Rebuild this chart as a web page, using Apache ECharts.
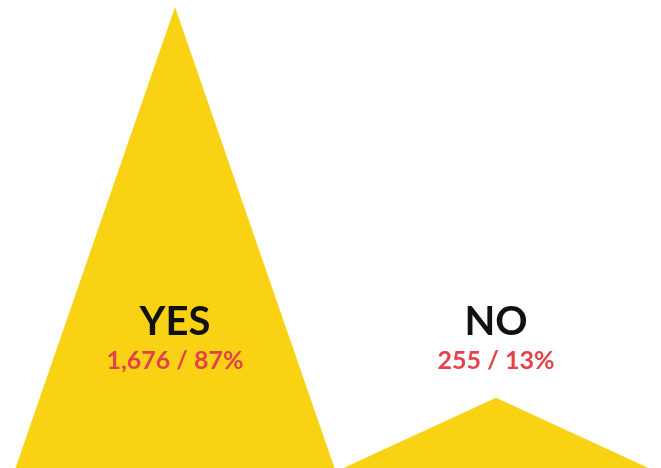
<!DOCTYPE html>
<html>
<head>
<meta charset="utf-8">
<script src="https://cdn.jsdelivr.net/npm/echarts@6/dist/echarts.min.js"></script>
<style>
  html, body { margin: 0; padding: 0; background: #fff; }
  #chart { width: 661px; height: 468px; }
</style>
</head>
<body>
<div id="chart"></div>
<script>
// answers and counts
var categories = ['YES', 'NO'];
var counts = [1676, 255];
var percents = ['87%', '13%'];
var baseWidths = [319, 305];

var chart = echarts.init(document.getElementById('chart'));

var option = {
  animation: false,
  grid: { left: 14.5, right: 4.5, top: 7, bottom: 0 },
  xAxis: {
    type: 'category',
    data: categories,
    show: false
  },
  yAxis: {
    type: 'value',
    min: 0,
    max: 1676,
    show: false
  },
  series: [{
    type: 'pictorialBar',
    symbol: 'triangle',
    itemStyle: { color: '#F9D313' },
    data: counts.map(function (v, i) {
      return {
        value: v,
        symbolSize: [baseWidths[i], '100%']
      };
    }),
    label: {
      show: true,
      position: 'insideBottom',
      distance: 87.5,
      formatter: function (p) {
        var i = p.dataIndex;
        return '{a|' + categories[i] + '}\n{b|' + counts[i].toLocaleString('en-US') + ' / ' + percents[i] + '}';
      },
      rich: {
        a: { fontFamily: 'Lato', fontWeight: 'bold', fontSize: 40, color: '#111', lineHeight: 39 },
        b: { fontFamily: 'Lato', fontWeight: 'bold', fontSize: 25, color: '#E4424B', lineHeight: 39 }
      }
    }
  }]
};

chart.setOption(option);
</script>
</body>
</html>
